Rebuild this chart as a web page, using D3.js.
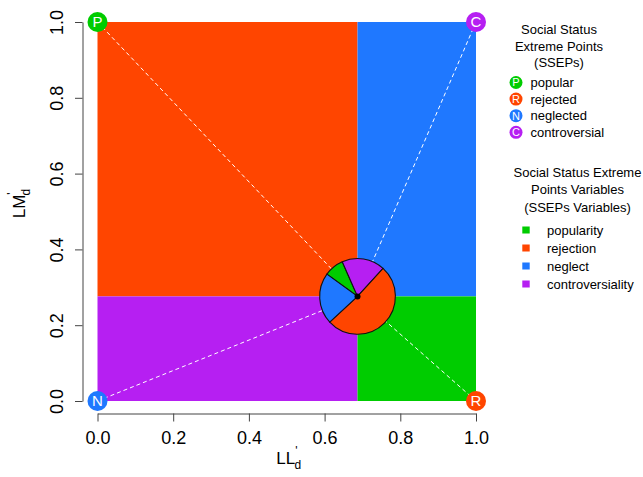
<!DOCTYPE html>
<html>
<head>
<meta charset="utf-8">
<script src="https://cdn.jsdelivr.net/npm/d3@7"></script>
<style>
  html, body { margin: 0; padding: 0; background: #fff; }
  svg { display: block; font-family: "Liberation Sans", Arial, Helvetica, sans-serif; }
</style>
</head>
<body>
<svg id="chart" width="643" height="477"></svg>
<script>
// Axis ticks (both axes share them)
const tickValues = [0, 0.2, 0.4, 0.6, 0.8, 1.0];

// Observed position of the subject in the (LL'd, LM'd) plane
const subjectLL = 0.687;
const subjectLM = 0.276;

// Social Status Extreme Points
const sseNames   = ["popular", "rejected", "neglected", "controversial"];
const sseLetters = ["P", "R", "N", "C"];
const sseLL      = [0, 1, 0, 1];
const sseLM      = [1, 0, 0, 1];

// SSEP variables and their shares in the pie
const varNames  = ["popularity", "rejection", "neglect", "controversiality"];
const varShares = [0.084, 0.514, 0.219, 0.184];
const colors    = ["#00cc00", "#ff4500", "#1f78ff", "#b61ff2"];

// Order the slices are laid out clockwise, starting angle in degrees
const pieOrder = [0, 3, 1, 2];
const pieStartDeg = 306;
const pieRadius = 0.1; // in axis units

const svg = d3.select("#chart");
const x = d3.scaleLinear().domain([0, 1]).range([97.5, 476]);
const y = d3.scaleLinear().domain([0, 1]).range([401, 22]);

// Quadrant fills: [x0, x1, y0, y1, variable index]
const quadrants = [
  [0, subjectLL, subjectLM, 1, 1],
  [subjectLL, 1, subjectLM, 1, 2],
  [0, subjectLL, 0, subjectLM, 3],
  [subjectLL, 1, 0, subjectLM, 0]
];
svg.append("g").selectAll("rect").data(quadrants).join("rect")
  .attr("x", d => x(d[0]))
  .attr("y", d => y(d[3]))
  .attr("width", d => x(d[1]) - x(d[0]))
  .attr("height", d => y(d[2]) - y(d[3]))
  .attr("fill", d => colors[d[4]]);

// Dashed links from each extreme point to the subject
svg.append("g").selectAll("line").data(sseNames).join("line")
  .attr("x1", (d, i) => x(sseLL[i]))
  .attr("y1", (d, i) => y(sseLM[i]))
  .attr("x2", x(subjectLL))
  .attr("y2", y(subjectLM))
  .attr("stroke", "#fff")
  .attr("stroke-width", 1)
  .attr("stroke-dasharray", "4,3");

// Pie of variable shares at the subject position
const rPx = x(pieRadius) - x(0);
const pieData = pieOrder.map(i => ({ i, v: varShares[i] }));
const startA = pieStartDeg * Math.PI / 180;
const arcs = d3.pie().sort(null).value(d => d.v)
  .startAngle(startA).endAngle(startA + 2 * Math.PI)(pieData);
const arc = d3.arc().innerRadius(0).outerRadius(rPx);
const pieG = svg.append("g").attr("transform", `translate(${x(subjectLL)},${y(subjectLM)})`);
pieG.selectAll("path").data(arcs).join("path")
  .attr("d", arc)
  .attr("fill", d => colors[d.data.i])
  .attr("stroke", "#111")
  .attr("stroke-width", 1.1);
pieG.append("circle").attr("r", 3).attr("fill", "#000");

// Extreme point markers
const markerColor = [0, 1, 2, 3].map(i => colors[i]);
const mk = svg.append("g").selectAll("g").data(sseNames).join("g")
  .attr("transform", (d, i) => `translate(${x(sseLL[i])},${y(sseLM[i])})`);
mk.append("circle").attr("r", 10).attr("fill", (d, i) => markerColor[i]);
mk.append("text").text((d, i) => sseLetters[i])
  .attr("text-anchor", "middle").attr("dy", "0.36em")
  .attr("fill", "#fff").attr("font-size", 15);

// Axes
const axisColor = "#444";
const xAxis = svg.append("g").attr("transform", "translate(0,413.5)")
  .call(d3.axisBottom(x).tickValues(tickValues).tickFormat(d3.format(".1f")).tickSizeOuter(0).tickSizeInner(8).tickPadding(10));
const yAxis = svg.append("g").attr("transform", "translate(82.5,0)")
  .call(d3.axisLeft(y).tickValues(tickValues).tickFormat(d3.format(".1f")).tickSizeOuter(0).tickSizeInner(7.5));
[xAxis, yAxis].forEach(g => {
  g.select(".domain").attr("stroke", axisColor);
  g.selectAll(".tick line").attr("stroke", axisColor);
  g.selectAll(".tick text").attr("fill", "#000").attr("font-size", 18)
    .attr("font-family", "'Liberation Sans', Arial, sans-serif");
});
yAxis.selectAll(".tick text")
  .attr("x", null).attr("dy", null)
  .attr("text-anchor", "middle")
  .attr("transform", "translate(-26,0) rotate(-90)")
  .attr("dominant-baseline", "central");

// Axis titles with prime superscript and d subscript
function axisTitle(g, main) {
  const t = g.append("text").attr("font-size", 17).attr("text-anchor", "middle");
  t.append("tspan").text(main);
  t.append("tspan").text("'").attr("font-size", 12).attr("dy", -9).attr("dx", 0);
  t.append("tspan").text("d").attr("font-size", 12).attr("dx", -3).attr("dy", 14);
  return t;
}
axisTitle(svg.append("g").attr("transform", `translate(${x(0.5) + 2},464)`), "LL");
axisTitle(svg.append("g").attr("transform", `translate(25,${y(0.5) - 8}) rotate(-90)`), "LM");

// Legend: extreme points
const leg1 = svg.append("g");
["Social Status", "Extreme Points", "(SSEPs)"].forEach((s, k) => {
  leg1.append("text").text(s).attr("x", 559).attr("y", 34 + k * 16.6)
    .attr("text-anchor", "middle").attr("font-size", 13);
});
const l1 = leg1.selectAll("g.item").data(sseNames).join("g")
  .attr("transform", (d, i) => `translate(516,${82.5 + i * 16.6})`);
l1.append("circle").attr("r", 6.5).attr("fill", (d, i) => markerColor[i]);
l1.append("text").text((d, i) => sseLetters[i]).attr("text-anchor", "middle")
  .attr("dy", "0.36em").attr("fill", "#fff").attr("font-size", 11);
l1.append("text").text(d => d).attr("x", 14.5).attr("dy", "0.36em").attr("font-size", 13);

// Legend: extreme point variables
const leg2 = svg.append("g");
["Social Status Extreme", "Points Variables", "(SSEPs Variables)"].forEach((s, k) => {
  leg2.append("text").text(s).attr("x", 577.5).attr("y", 176.5 + k * 17.5)
    .attr("text-anchor", "middle").attr("font-size", 13);
});
const l2 = leg2.selectAll("g.item").data(varNames).join("g")
  .attr("transform", (d, i) => `translate(526,${230 + i * 18})`);
l2.append("rect").attr("x", -3.7).attr("y", -3.5).attr("width", 7.4).attr("height", 7)
  .attr("fill", (d, i) => colors[i]);
l2.append("text").text(d => d).attr("x", 21).attr("dy", "0.36em").attr("font-size", 13);
</script>
</body>
</html>
